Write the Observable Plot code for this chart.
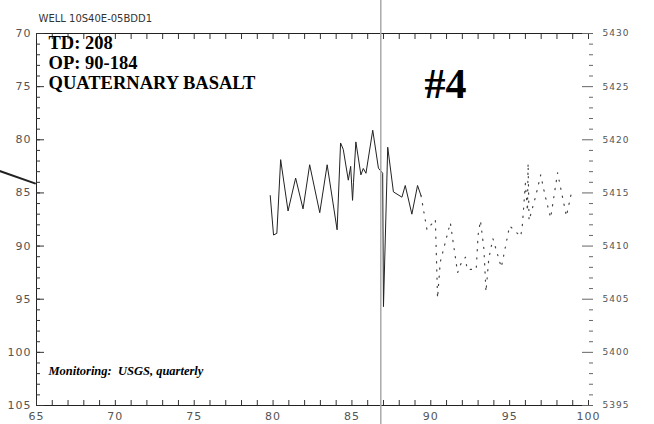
<!DOCTYPE html>
<html><head><meta charset="utf-8">
<script src="https://cdn.jsdelivr.net/npm/d3@7"></script>
<script src="https://cdn.jsdelivr.net/npm/@observablehq/plot@0.6"></script>
<style>
body{margin:0;background:#fff}
g[aria-label$="tick label"]{fill:#555;letter-spacing:1px}
</style>
</head><body><div id="chart"></div>
<script>
const wellName = "WELL 10S40E-05BDD1";
const infoLines = ["TD: 208", "OP: 90-184", "QUATERNARY BASALT"];
const wellNumber = "#4";
const monitoring = "Monitoring:  USGS, quarterly";

// depth to water (ft) vs year (19xx)
const years = [79.82,80.03,80.24,80.48,80.95,81.43,81.9,82.32,82.96,83.43,84.06,84.28,84.45,84.77,84.92,85.04,85.1,85.25,85.57,85.72,85.89,86.32,86.68,86.95,87.0,87.27,
  87.63,88.17,88.38,88.8,89.16,89.38,89.76,90.29,90.43,90.6,91.24,91.7,91.9,92.2,92.3,92.88,93.0,93.15,93.37,93.5,93.68,93.94,94.47,95.0,95.7,95.8,96.0,96.13,96.17,96.23,96.66,96.97,97.24,97.6,97.78,98.04,98.6,98.9,99.1];
const depths = [85.25,88.96,88.8,81.87,86.7,83.6,86.5,82.35,86.86,82.35,88.47,80.3,80.9,83.8,82.5,85.7,84.0,80.2,83.3,82.7,83.15,79.1,82.67,83.15,95.7,80.7,
  84.9,85.4,84.3,87.0,84.3,85.25,88.47,87.5,94.9,91.5,87.8,92.5,91.7,91.05,92.2,92.2,88.95,87.6,90.3,94.3,91.15,89.3,92.0,88.1,89.1,88.15,84.1,86.7,82.2,87.6,85.25,83.3,85.2,87.35,85.6,83.1,87.2,85.1,85.0];

const xTicksMajor = [65, 70, 75, 80, 85, 90, 95, 100];
const xTicksMinor = d3.range(65, 101, 1);
const yTicksMajor = [70, 75, 80, 85, 90, 95, 100, 105];
const yTicksMinor = d3.range(70, 106, 1);
const elevationDatum = 5500; // elevation = datum - depth

const foldYear = [86.83];
const penStrokeX = [62.6, 64.9];
const penStrokeY = [82.9, 84.1];

const obs = years.map((x, i) => ({x, y: depths[i]}));
const solidPart = obs.filter(d => d.x <= 89.4);
const sparsePart = obs.filter(d => d.x >= 89.38);
const pen = penStrokeX.map((x, i) => ({x, y: penStrokeY[i]}));

const sans = "DejaVu Sans";
const serif = "Liberation Serif";

const chart = Plot.plot({
  width: 654, height: 424,
  marginLeft: 36, marginRight: 66, marginTop: 33, marginBottom: 19,
  x: {domain: [65, 100], axis: null, label: null},
  y: {domain: [70, 105], reverse: true, axis: null, label: null},
  style: {background: "#fff", fontFamily: sans},
  marks: [
    // frame
    Plot.ruleY([70, 105], {stroke: "#222", strokeWidth: 1}),
    Plot.ruleX([65], {stroke: "#222", strokeWidth: 1}),
    // bottom axis
    Plot.axisX(xTicksMinor, {anchor: "bottom", tickSize: -5, tickFormat: () => "", stroke: "#333"}),
    Plot.axisX(xTicksMajor, {anchor: "bottom", tickSize: 0, tickPadding: 7, fontSize: 11, tickFormat: d => String(d)}),
    // top axis
    Plot.axisX(xTicksMinor, {anchor: "top", tickSize: -5, tickFormat: () => "", stroke: "#333"}),
    // left axis
    Plot.axisY(yTicksMinor, {anchor: "left", tickSize: -4, tickFormat: () => "", stroke: "#333"}),
    Plot.axisY(yTicksMajor, {anchor: "left", tickSize: -8, tickPadding: 13, fontSize: 11, stroke: "#333", tickFormat: d => String(d)}),
    // right axis (elevation)
    Plot.axisY(yTicksMinor, {anchor: "right", tickSize: 4, tickFormat: () => "", stroke: "#666"}),
    Plot.axisY(yTicksMajor, {anchor: "right", tickSize: -7, tickPadding: 21, fontSize: 9, stroke: "#666", fill: "#999", tickFormat: d => String(elevationDatum - d)}),
    // hydrograph
    Plot.line(solidPart, {x: "x", y: "y", stroke: "#222", strokeWidth: 1}),
    Plot.line(sparsePart, {x: "x", y: "y", stroke: "#444", strokeWidth: 1.2, strokeDasharray: "1.2,7"}),
    // pen stroke in margin
    Plot.line(pen, {x: "x", y: "y", stroke: "#222", strokeWidth: 2, clip: false}),
    // texts
    Plot.text([wellName], {frameAnchor: "top-left", dx: 2, dy: -19, textAnchor: "start", fontSize: 10, fill: "#333", fontFamily: sans, style: "letter-spacing:2.4px"}),
    Plot.text([infoLines.join("\n")], {frameAnchor: "top-left", dx: 12, dy: 1, textAnchor: "start", lineAnchor: "top", lineHeight: 1.08, fontSize: 18.5, fontWeight: "bold", fontFamily: serif, fill: "#000"}),
    Plot.text([wellNumber], {frameAnchor: "top-left", dx: 388, dy: 35, textAnchor: "start", lineAnchor: "top", fontSize: 42, fontWeight: "bold", fontFamily: serif, fill: "#000"}),
    Plot.text([monitoring], {frameAnchor: "bottom-left", dx: 12, dy: -31, textAnchor: "start", lineAnchor: "bottom", fontSize: 12.5, fontWeight: "bold", fontStyle: "italic", fontFamily: serif, fill: "#000"}),
    // scan fold line
    Plot.ruleX(foldYear, {y1: 66.8, y2: 106.9, stroke: "#aaa", strokeWidth: 1.5, clip: false})
  ]
});
document.getElementById("chart").appendChild(chart);
</script>
</body></html>
